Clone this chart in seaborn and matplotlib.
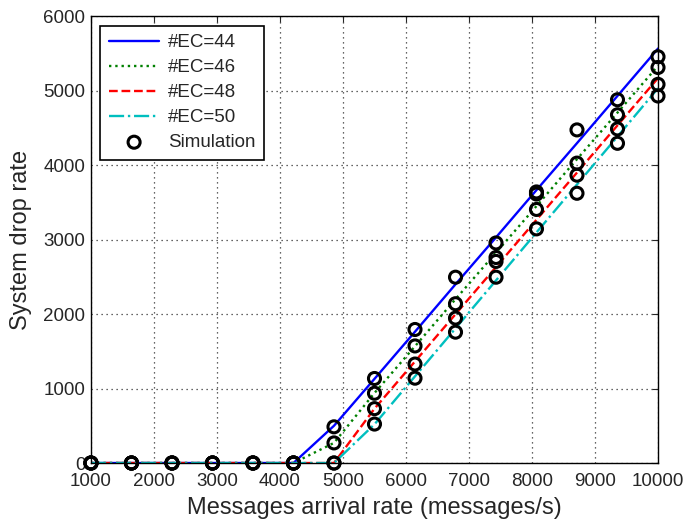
import numpy as np
import pandas as pd
import matplotlib
matplotlib.use("Agg")
import matplotlib.pyplot as plt
import seaborn as sns

# x positions (messages/s), 15 points from 1000 to 10000
rate = [1000, 1643, 2286, 2929, 3571, 4214, 4857, 5500, 6143, 6786, 7429, 8071, 8714, 9357, 10000]

# analytical curves
ec44 = [0, 0, 0, 0, 0, 0, 500, 1130, 1763, 2400, 3030, 3665, 4295, 4930, 5565]
ec46 = [0, 0, 0, 0, 0, 0, 270, 940, 1568, 2200, 2825, 3450, 4080, 4705, 5333]
ec48 = [0, 0, 0, 0, 0, 0, 0, 730, 1364, 1998, 2632, 3266, 3900, 4534, 5168]
ec50 = [0, 0, 0, 0, 0, 0, 0, 520, 1164, 1808, 2452, 3096, 3740, 4384, 5032]

# simulation points (one per curve)
sim44 = [0, 0, 0, 0, 0, 0, 486, 1135, 1793, 2495, 2955, 3640, 4473, 4878, 5455]
sim46 = [0, 0, 0, 0, 0, 0, 270, 937, 1572, 2139, 2760, 3612, 4027, 4676, 5311]
sim48 = [0, 0, 0, 0, 0, 0, 0, 730, 1329, 1946, 2707, 3405, 3865, 4486, 5085]
sim50 = [0, 0, 0, 0, 0, 0, 0, 523, 1139, 1757, 2495, 3144, 3622, 4293, 4928]

labels = ["#EC=44", "#EC=46", "#EC=48", "#EC=50"]
colors = ["#0000ff", "#008000", "#ff0000", "#00bfbf"]
styles = ["-", ":", "--", "-."]

sns.set_style("white")
plt.rcParams["font.family"] = ["Liberation Sans", "DejaVu Sans"]

fig = plt.figure(figsize=(6.84, 5.22), dpi=100)
ax = fig.add_axes([0.133, 0.113, 0.829, 0.856])

for y, lab, c, ls in zip([ec44, ec46, ec48, ec50], labels, colors, styles):
    sns.lineplot(x=rate, y=y, ax=ax, color=c, linestyle=ls, linewidth=1.7, label=lab)

sim = pd.DataFrame({
    "rate": rate * 4,
    "drop": sim44 + sim46 + sim48 + sim50,
})
sns.scatterplot(data=sim, x="rate", y="drop", ax=ax, marker="o", s=75,
                facecolors="none", edgecolor="black", linewidth=2.2,
                label="Simulation", zorder=5, clip_on=False)

ax.set_xlim(1000, 10000)
ax.set_ylim(0, 6000)
ax.set_xticks(range(1000, 10001, 1000))
ax.set_yticks(range(0, 6001, 1000))
ax.tick_params(direction="in", labelsize=13.5, length=4, width=0.8, top=True, right=True)
ax.tick_params(axis="x", pad=7)
ax.tick_params(axis="y", pad=4)
ax.grid(True, linestyle=(0, (1, 3)), color="#333333", linewidth=0.9)
for sp in ax.spines.values():
    sp.set_color("black")
    sp.set_linewidth(1)

ax.set_xlabel("Messages arrival rate (messages/s)", fontsize=17, labelpad=5)
ax.set_ylabel("System drop rate", fontsize=17, labelpad=8)

leg = ax.legend(loc="upper left", fontsize=13.5, frameon=True, fancybox=False,
                edgecolor="black", framealpha=1, handlelength=2.7,
                borderpad=0.45, labelspacing=0.42, handletextpad=0.45,
                borderaxespad=0.5)
leg.get_frame().set_linewidth(1.2)

fig.savefig("out.png", dpi=100)
